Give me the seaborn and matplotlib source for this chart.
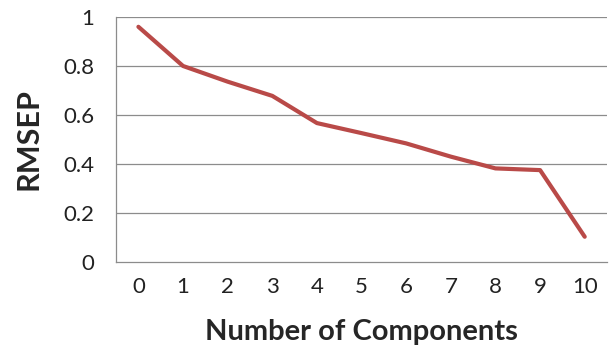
import matplotlib
matplotlib.use("Agg")
import matplotlib.pyplot as plt
import numpy as np
import pandas as pd
import seaborn as sns

components = [0, 1, 2, 3, 4, 5, 6, 7, 8, 9, 10]
rmsep = [0.96, 0.80, 0.736, 0.678, 0.567, 0.526, 0.484, 0.43, 0.382, 0.375, 0.103]
y_ticks = [0, 0.2, 0.4, 0.6, 0.8, 1]
y_labels = ["0", "0.2", "0.4", "0.6", "0.8", "1"]

df = pd.DataFrame({"Number of Components": components, "RMSEP": rmsep})

sns.set_style("white")
plt.rcParams["font.family"] = ["Lato", "DejaVu Sans"]

fig = plt.figure(figsize=(6.11, 3.51), dpi=100)
ax = fig.add_axes([0.19, 0.2536, 0.8035, 0.698])

sns.lineplot(data=df, x="Number of Components", y="RMSEP", ax=ax,
             color="#b94a48", linewidth=3.0)

grid_col = "#8c8c8c"
ax.set_xlim(-0.5, 10.5)
ax.set_ylim(0, 1)
ax.set_yticks(y_ticks)
ax.set_yticklabels(y_labels)
for y in y_ticks[1:]:
    ax.axhline(y, color=grid_col, linewidth=0.9, zorder=0)

# category boundaries as major ticks, labels on minor ticks
ax.set_xticks(np.arange(-0.5, 11, 1))
ax.set_xticklabels([])
ax.set_xticks(components, minor=True)
ax.set_xticklabels([str(c) for c in components], minor=True)
ax.tick_params(axis="x", which="major", length=3.6, color=grid_col, width=0.9,
               direction="out")
ax.tick_params(axis="x", which="minor", length=0, pad=11, labelsize=16,
               labelcolor="#222222")
ax.tick_params(axis="y", length=3.6, color=grid_col, width=0.9, pad=12,
               labelsize=16, labelcolor="#222222", direction="out")

for side in ("top", "right"):
    ax.spines[side].set_visible(False)
for side in ("left", "bottom"):
    ax.spines[side].set_color(grid_col)
    ax.spines[side].set_linewidth(0.9)

ax.set_xlabel("Number of Components", fontsize=21, fontweight="bold",
              labelpad=16)
ax.set_ylabel("RMSEP", fontsize=22, fontweight="bold", labelpad=15)

fig.savefig("out.png", dpi=100)
